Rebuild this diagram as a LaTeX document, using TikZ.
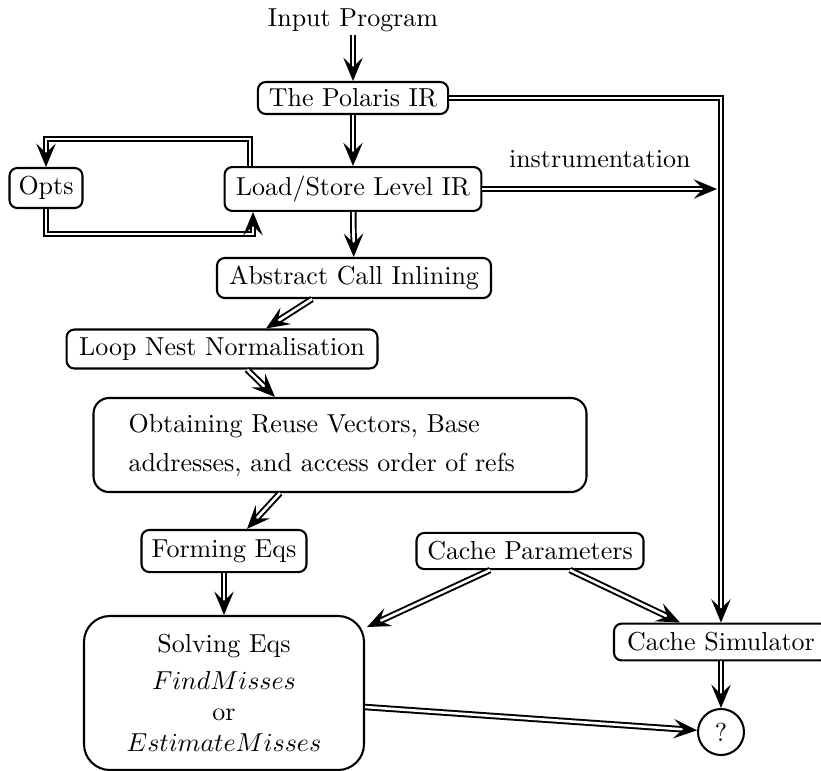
\documentclass[tikz,border=0pt]{standalone}
\usetikzlibrary{arrows.meta,decorations.markings}
\begin{document}
\begin{tikzpicture}[x=0.385pt,y=-0.385pt,
  box/.style={draw, line width=0.8pt, rounded corners=3pt, inner sep=0pt},
  dbl/.style={double, line width=0.75pt, double distance=1pt, shorten >=5pt,
    postaction={decorate, decoration={markings, mark=at position 1 with
      {\pgfsetinnerlinewidth{0pt}\arrow[line width=0.75pt]{Stealth[length=9pt,width=7.5pt,inset=3.6pt]}}}}},
]
\useasboundingbox (0,0) rectangle (821,770);

\node[inner sep=1pt] (input) at (353,20) {Input Program};
\node[box, minimum width=73.2pt, minimum height=12.3pt] (pol) at (353,98) {The Polaris IR};
\node[box, minimum width=28.1pt, minimum height=15.4pt] (opts) at (46,188) {Opts};
\node[box, minimum width=98.9pt, minimum height=16.9pt] (ls) at (353,189) {Load/Store Level IR};
\node[box, minimum width=105.5pt, minimum height=15.4pt] (abs) at (354,278) {Abstract Call Inlining};
\node[box, minimum width=119.7pt, minimum height=15.0pt] (loop) at (222,349) {Loop Nest Normalisation};
\node[box, rounded corners=6pt, minimum height=36.2pt, inner xsep=13.5pt,
      text width=162.8pt, align=left] (obt) at (340,445)
      {Obtaining Reuse Vectors, Base\\[3pt]addresses, and access order of refs};
\node[box, minimum width=63.5pt, minimum height=16.2pt] (form) at (224,551) {Forming Eqs};
\node[box, minimum width=87.4pt, minimum height=13.9pt] (cp) at (530,551) {Cache Parameters};
\node[box, rounded corners=10pt, minimum width=107.8pt, minimum height=59.3pt, align=center] (solve) at (224,693)
      {Solving Eqs\\[2pt] $FindMisses$\\ or\\ $EstimateMisses$};
\node[box, minimum width=82.4pt, minimum height=14.2pt] (cs) at (721,642) {Cache Simulator};
\node[draw, circle, line width=0.8pt, minimum size=17.7pt, inner sep=0pt] (q) at (721,732) {?};
\coordinate (ins) at (717,188);

\draw[dbl] (input) -- (pol);
\draw[dbl] (pol) -- (ls);
\draw[dbl] (pol.east) -| (cs.north);
\draw[dbl] (ls.east) -- (ls.east -| ins) node[midway, above, yshift=4.4pt] (lab) {instrumentation};
\draw[dbl] (ls.north -| 250,0) -- ++(0,-27) -| (opts.north);
\draw[dbl] (opts.south) -- ++(0,25) -| (ls.south -| 253,0);
\draw[dbl] (ls) -- (abs);
\draw[dbl] (abs.south -| 312,0) -- (loop.north -| 266,0);
\draw[dbl] (loop.south -| 247,0) -- (obt.north -| 275,0);
\draw[dbl] (obt.south -| 280,0) -- (form.north -| 247,0);
\draw[dbl] (form) -- (solve);
\draw[dbl] (cp.south -| 490,0) -- (367,627);
\draw[dbl] (cp.south -| 570,0) -- (cs.north -| 680,0);
\draw[dbl] (solve.east |- 0,707) -- (q);
\draw[dbl] (cs) -- (q);
\end{tikzpicture}
\end{document}
